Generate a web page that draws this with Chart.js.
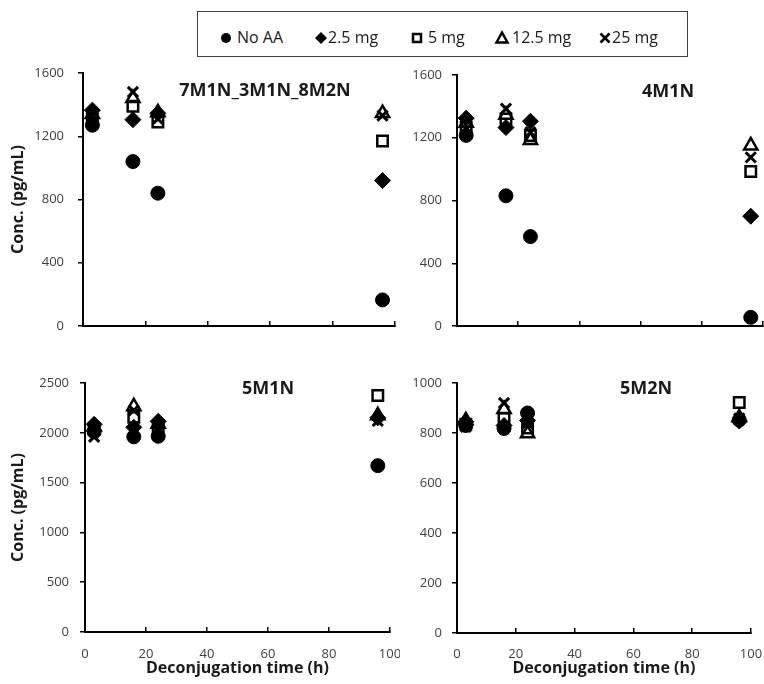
<!DOCTYPE html>
<html>
<head>
<meta charset="utf-8">
<script src="https://cdn.jsdelivr.net/npm/chart.js@4.4.0/dist/chart.umd.min.js"></script>
<style>
html,body{margin:0;padding:0;background:#fff;}
#wrap{position:relative;width:764px;height:684px;overflow:hidden;font-family:'Open Sans',sans-serif;background:#fff;}
#wrap canvas{position:absolute;}
.ptitle{position:absolute;transform:translate(-50%,-50%);font-weight:700;font-size:18px;color:#1a1a1a;white-space:nowrap;line-height:24px;}
#legendBox{position:absolute;left:197px;top:11px;width:491px;height:46px;border:1.5px solid #404040;box-sizing:border-box;}
.ltext{position:absolute;top:27px;font-size:16px;line-height:20px;color:#1a1a1a;white-space:nowrap;}
</style>
</head>
<body>
<div id="wrap">
  <div id="legendBox"></div>
  <canvas id="c0" width="400" height="280" style="left:0;top:60px;"></canvas>
  <canvas id="c1" width="364" height="280" style="left:400px;top:60px;"></canvas>
  <canvas id="c2" width="400" height="344" style="left:0;top:340px;"></canvas>
  <canvas id="c3" width="364" height="344" style="left:400px;top:340px;"></canvas>
</div>
<script>
// ---------------- data ----------------
const timePoints = [3, 16, 24, 96];                 // deconjugation time (h)
const seriesNames = ['No AA', '2.5 mg', '5 mg', '12.5 mg', '25 mg'];
const panelNames = ['7M1N_3M1N_8M2N', '4M1N', '5M1N', '5M2N'];
const xTickValues = [0, 20, 40, 60, 80, 100];
const yMaxes = [1600, 1600, 2500, 1000];
const ySteps = [400, 400, 500, 200];

// concentrations (pg/mL); rows follow seriesNames, columns follow timePoints
const conc7M1N_3M1N_8M2N = [
  [1270, 1040, 840, 165],
  [1365, 1305, 1345, 920],
  [1310, 1390, 1290, 1170],
  [1340, 1440, 1350, 1345],
  [1300, 1480, 1310, 1330]
];
const conc4M1N = [
  [1215, 830, 570, 55],
  [1325, 1265, 1305, 700],
  [1265, 1320, 1215, 985],
  [1295, 1345, 1185, 1150],
  [1255, 1385, 1235, 1075]
];
const conc5M1N = [
  [2010, 1960, 1965, 1670],
  [2085, 2055, 2115, 2150],
  [2035, 2155, 2045, 2375],
  [2060, 2265, 2090, 2175],
  [1960, 2225, 2015, 2120]
];
const conc5M2N = [
  [830, 818, 880, 852],
  [845, 830, 850, 848],
  [835, 858, 820, 922],
  [850, 895, 798, 862],
  [825, 920, 840, 858]
];
const panelData = [conc7M1N_3M1N_8M2N, conc4M1N, conc5M1N, conc5M2N];

// ---------------- styling ----------------
const FONT = "'Open Sans', sans-serif";
const markerStyles = ['circle', 'rectRot', 'rect', 'triangle', 'crossRot'];
const markerRadii = [7, 8, 7.4, 7.6, 7.2];
const markerBorder = [1, 1, 2.5, 2.5, 3];
const markerFill = ['#000', '#000', 'rgba(0,0,0,0)', 'rgba(0,0,0,0)', '#000'];

const panelLayout = [
  {pad:{left:0,right:5,top:13,bottom:0}, yW:83, xH:14, yPad:14, xLabels:false, yTitle:true, xPad:19},
  {pad:{left:0,right:1,top:15,bottom:0}, yW:57, xH:14, yPad:10, xLabels:false, yTitle:false, xPad:19},
  {pad:{left:0,right:10,top:43,bottom:0}, yW:85, xH:52, yPad:11, xLabels:true, yTitle:true, xPad:19},
  {pad:{left:0,right:13,top:43,bottom:0}, yW:57, xH:51, yPad:10, xLabels:true, yTitle:false, xPad:18}
];
const titlePos = [[265, 89], [668, 90], [268, 387], [646, 387]];

function zeroPad(s) { s.paddingLeft = 0; s.paddingRight = 0; s.paddingTop = 0; s.paddingBottom = 0; }

function buildChart(idx) {
  const L = panelLayout[idx];
  const datasets = seriesNames.map((name, i) => ({
    label: name,
    data: timePoints.map((t, j) => ({x: t, y: panelData[idx][i][j]})),
    pointStyle: markerStyles[i],
    pointRadius: markerRadii[i],
    pointHoverRadius: markerRadii[i],
    pointBorderWidth: markerBorder[i],
    pointBackgroundColor: markerFill[i],
    pointBorderColor: '#000',
    showLine: false,
    clip: false,
    order: seriesNames.length - 1 - i
  }));
  return new Chart(document.getElementById('c' + idx), {
    type: 'scatter',
    data: {datasets},
    options: {
      responsive: false,
      animation: false,
      events: [],
      layout: {padding: L.pad, autoPadding: false},
      plugins: {legend: {display: false}, tooltip: {enabled: false}, title: {display: false}},
      scales: {
        x: {
          type: 'linear', min: xTickValues[0], max: xTickValues[xTickValues.length - 1],
          afterBuildTicks: s => { s.ticks = xTickValues.map(v => ({value: v})); },
          ticks: {display: L.xLabels, color: '#404040', font: {family: FONT, size: 13}, padding: L.xPad,
                  maxRotation: 0, autoSkip: false, callback: v => String(v)},
          grid: {drawOnChartArea: false, drawTicks: true, tickLength: -5, color: '#000', lineWidth: 1.5},
          border: {display: true, color: '#000', width: 2},
          title: {display: L.xLabels, text: 'Deconjugation time (h)', color: '#1a1a1a',
                  font: {family: FONT, size: 16, weight: 'bold'}, padding: {top: 0, bottom: 6}},
          afterFit: s => { s.height = L.xH; zeroPad(s); }
        },
        y: {
          type: 'linear', min: 0, max: yMaxes[idx],
          ticks: {stepSize: ySteps[idx], color: '#404040', font: {family: FONT, size: 13}, padding: L.yPad,
                  callback: v => String(v)},
          grid: {drawOnChartArea: false, drawTicks: true, tickLength: 5, color: '#000', lineWidth: 1.5},
          border: {display: true, color: '#000', width: 2},
          title: {display: L.yTitle, text: 'Conc. (pg/mL)', color: '#1a1a1a',
                  font: {family: FONT, size: 16, weight: 'bold'}, padding: {top: 9, bottom: 0}},
          afterFit: s => { s.width = L.yW; zeroPad(s); }
        }
      }
    }
  });
}

const wrap = document.getElementById('wrap');
panelNames.forEach((name, i) => {
  const d = document.createElement('div');
  d.className = 'ptitle';
  d.textContent = name;
  d.style.left = titlePos[i][0] + 'px';
  d.style.top = titlePos[i][1] + 'px';
  wrap.appendChild(d);
});

// legend (HTML text + small canvas markers)
const legendMarkerX = [226, 321, 417, 502, 605];
const legendTextX = [237, 328, 428, 512, 612];
function drawLegendMarker(ctx, style, cx, cy) {
  ctx.fillStyle = '#000'; ctx.strokeStyle = '#000';
  ctx.beginPath();
  if (style === 'circle') { ctx.arc(cx, cy, 5, 0, Math.PI * 2); ctx.fill(); }
  else if (style === 'rectRot') { ctx.moveTo(cx, cy - 6); ctx.lineTo(cx + 6, cy); ctx.lineTo(cx, cy + 6); ctx.lineTo(cx - 6, cy); ctx.closePath(); ctx.fill(); }
  else if (style === 'rect') { ctx.lineWidth = 2.5; ctx.rect(cx - 4, cy - 4, 8, 8); ctx.stroke(); }
  else if (style === 'triangle') { ctx.lineWidth = 2.5; ctx.lineJoin = 'miter'; ctx.moveTo(cx, cy - 5.5); ctx.lineTo(cx + 5.5, cy + 4.5); ctx.lineTo(cx - 5.5, cy + 4.5); ctx.closePath(); ctx.stroke(); }
  else { ctx.lineWidth = 2.6; ctx.moveTo(cx - 4.5, cy - 4.5); ctx.lineTo(cx + 4.5, cy + 4.5); ctx.moveTo(cx + 4.5, cy - 4.5); ctx.lineTo(cx - 4.5, cy + 4.5); ctx.stroke(); }
}
seriesNames.forEach((name, i) => {
  const c = document.createElement('canvas');
  c.width = 20; c.height = 20;
  c.style.left = (legendMarkerX[i] - 10) + 'px';
  c.style.top = (37.5 - 10) + 'px';
  wrap.appendChild(c);
  drawLegendMarker(c.getContext('2d'), markerStyles[i], 10, 10);
  const t = document.createElement('div');
  t.className = 'ltext';
  t.textContent = name;
  t.style.left = legendTextX[i] + 'px';
  wrap.appendChild(t);
});

panelNames.forEach((n, i) => buildChart(i));
</script>
</body>
</html>
